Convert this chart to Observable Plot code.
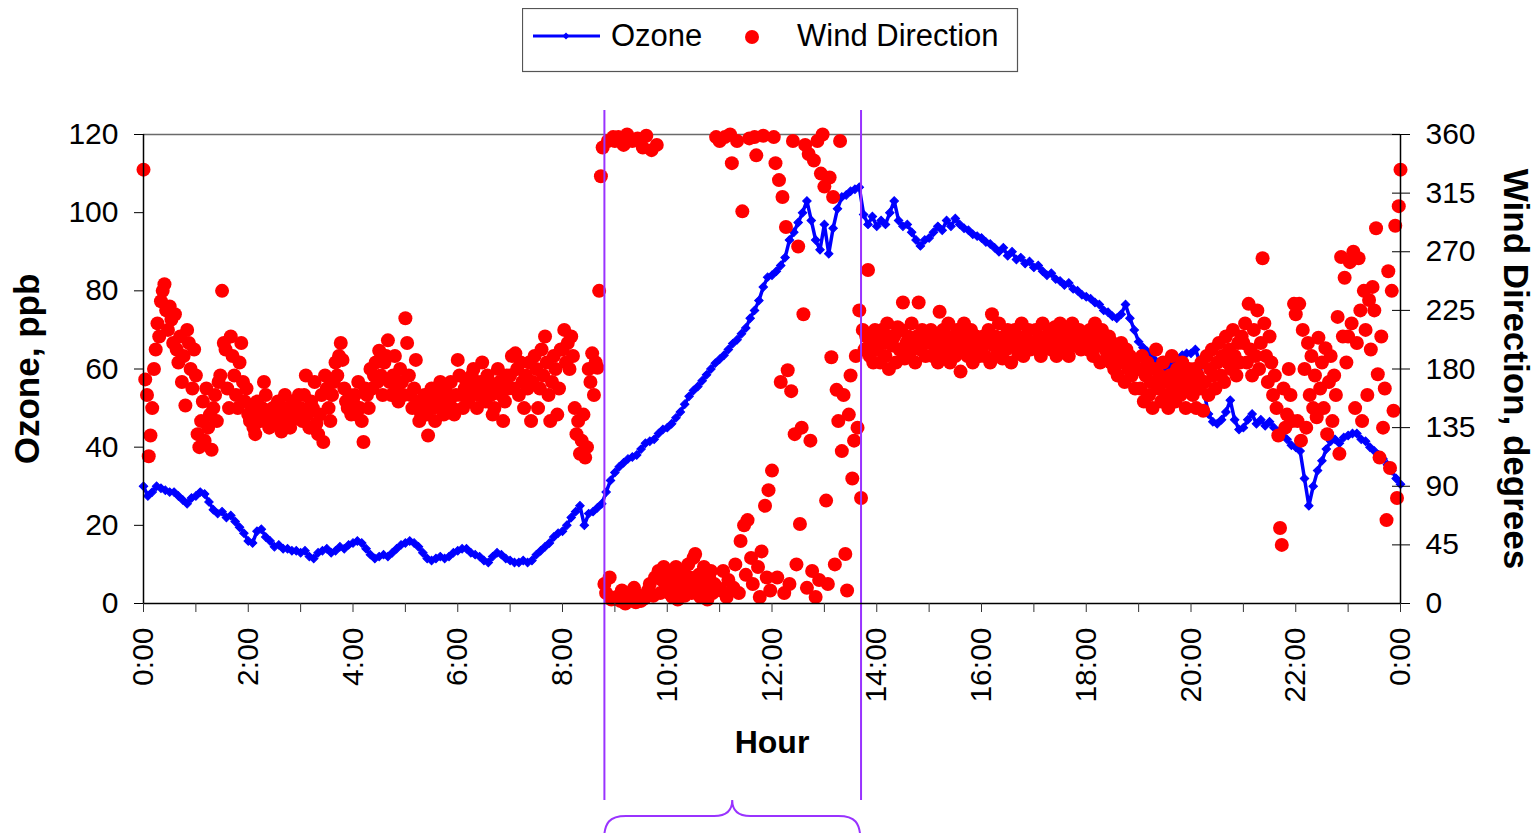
<!DOCTYPE html>
<html>
<head>
<meta charset="utf-8">
<script src="https://cdn.jsdelivr.net/npm/d3@7"></script>
<script src="https://cdn.jsdelivr.net/npm/@observablehq/plot@0.6"></script>
<style>
  html, body { margin: 0; padding: 0; background: #fff; }
  #wrap { position: relative; width: 1538px; height: 833px; overflow: hidden; font-family: "Liberation Sans", Arial, sans-serif; }
  #legend { position: absolute; left: 522px; top: 8px; }
</style>
</head>
<body>
<div id="wrap">
  <div id="chart"></div>
  <svg id="legend" width="497" height="65">
    <rect x="0.5" y="0.5" width="495" height="63" fill="#fff" stroke="#555" stroke-width="1.2"></rect>
    <line x1="11" y1="28" x2="78" y2="28" stroke="#0000ff" stroke-width="3"></line>
    <rect x="41.5" y="25.5" width="5" height="5" fill="#0000ff" transform="rotate(45 44 28)"></rect>
    <text x="89" y="38" font-family="Liberation Sans, Arial, sans-serif" font-size="31" fill="#000">Ozone</text>
    <circle cx="230" cy="29" r="7" fill="#ff0000"></circle>
    <text x="275" y="38" font-family="Liberation Sans, Arial, sans-serif" font-size="31" fill="#000">Wind Direction</text>
  </svg>
</div>
<script>
// ---- Ozone (ppb), every 5 minutes, one row per hour ----
const ozoneH00 = [30, 27.5, 28.5, 30, 29.5, 29, 28.5, 28.5, 27.5, 26.5, 25.5, 27];
const ozoneH01 = [27.5, 28.5, 28, 26, 24, 23, 23.5, 22, 22.5, 21, 19.5, 18];
const ozoneH02 = [16, 15.5, 18.5, 19, 17, 16, 14.5, 15, 14, 14, 13.5, 13.5];
const ozoneH03 = [13, 13.5, 12, 11.5, 13, 13.5, 14, 13, 13.5, 14.5, 14, 15];
const ozoneH04 = [15.5, 16, 15.5, 14, 12.5, 11.5, 12, 12.5, 12, 13, 14, 15];
const ozoneH05 = [15.5, 16, 15.5, 14.5, 13, 11.5, 11, 11.5, 12, 11.5, 12, 13];
const ozoneH06 = [13.5, 14, 14, 13, 12.5, 12, 11, 10.5, 12, 13, 12.5, 11.5];
const ozoneH07 = [11, 10.5, 10.5, 11, 10.5, 11, 12.5, 13.5, 14.5, 15.5, 17, 18];
const ozoneH08 = [18.5, 20, 22, 23.5, 25, 20, 23, 23.5, 24.5, 25.5, 28.5, 31.5];
const ozoneH09 = [33.5, 35, 36, 37, 37.5, 38, 39.5, 41, 41.5, 42, 43.5, 44.5];
const ozoneH10 = [45, 46, 47.5, 49, 51, 53, 54.5, 55.5, 57, 58.5, 60, 61.5];
const ozoneH11 = [62.5, 63.5, 65, 66.5, 67.5, 69, 70.5, 73, 75, 77.5, 81, 83.5];
const ozoneH12 = [84, 85, 86.5, 88.5, 93, 95, 97.5, 100, 103, 98, 93, 90.5];
const ozoneH13 = [97, 89.5, 96, 101, 104, 104.5, 105.5, 106, 106.5, 99.5, 97, 99];
const ozoneH14 = [96.5, 98, 97, 100, 103, 98, 96.5, 97, 95, 93, 91.5, 93];
const ozoneH15 = [93.5, 95, 96.5, 95.5, 98, 96.5, 98.5, 97, 96, 95.5, 94.5, 94];
const ozoneH16 = [93.5, 92.5, 92, 91, 90, 91, 89, 90, 88, 88.5, 87, 87.5];
const ozoneH17 = [86, 86.5, 85, 84, 84.5, 83, 82.5, 81.5, 82, 80.5, 80, 79];
const ozoneH18 = [78.5, 78, 77, 76.5, 75, 74.5, 73.5, 73, 74, 76.5, 73, 70];
const ozoneH19 = [67, 65.5, 64.5, 63, 62, 61, 60.5, 61, 62, 62.5, 63.5, 64];
const ozoneH20 = [64, 65, 62, 54, 48.5, 46.5, 46, 47, 49, 52, 47, 44.5];
const ozoneH21 = [45, 47, 48.5, 46, 47, 45.5, 46.5, 45, 44, 43, 42, 40.5];
const ozoneH22 = [40, 39, 32, 25, 30, 34, 36.5, 39.5, 41.5, 42, 41, 42.5];
const ozoneH23 = [43, 43.5, 43.5, 42, 41.5, 40, 39, 38, 37, 35.5, 34, 32];
const ozoneEnd = [30.5];

// ---- Wind direction (degrees), every 2 minutes, one row per hour ----
const windH00 = [333, 172, 160, 113, 129, 150, 180, 195, 215, 205, 232, 240, 245, 225, 210, 228, 218, 200, 222, 195, 185, 205, 170, 190, 152, 210, 200, 180, 165, 195];
const windH01 = [175, 130, 120, 140, 155, 125, 165, 135, 145, 118, 150, 160, 140, 170, 175, 240, 200, 195, 165, 150, 205, 190, 175, 160, 150, 185, 200, 170, 155, 165];
const windH02 = [145, 140, 150, 135, 130, 155, 145, 140, 150, 170, 160, 145, 135, 140, 150, 145, 138, 155, 148, 132, 145, 160, 150, 140, 135, 148, 155, 142, 150, 160];
const windH03 = [150, 140, 160, 175, 145, 135, 155, 150, 170, 138, 130, 145, 160, 124, 175, 165, 150, 140, 160, 170, 185, 175, 190, 200, 187, 165, 155, 150, 160, 145];
const windH04 = [155, 160, 145, 170, 150, 140, 124, 165, 160, 150, 180, 165, 175, 185, 170, 194, 175, 160, 185, 190, 202, 170, 160, 175, 190, 165, 155, 180, 170, 160];
const windH05 = [219, 200, 175, 160, 150, 165, 187, 155, 140, 145, 150, 160, 145, 129, 155, 165, 150, 140, 155, 160, 170, 150, 145, 165, 160, 155, 170, 150, 145, 160];
const windH06 = [187, 175, 160, 150, 165, 170, 155, 160, 175, 180, 165, 150, 160, 170, 185, 165, 155, 175, 170, 160, 145, 150, 165, 180, 170, 160, 140, 155, 175, 165];
const windH07 = [175, 190, 165, 192, 180, 160, 185, 170, 150, 175, 165, 185, 140, 170, 190, 180, 150, 165, 195, 175, 205, 185, 160, 140, 170, 190, 180, 145, 165, 195];
const windH08 = [195, 210, 185, 200, 180, 205, 190, 150, 130, 140, 115, 125, 145, 112, 120, 180, 170, 192, 160, 185, 181, 240, 328, 350, 15, 8, 355, 20, 3, 358];
const windH09 = [355, 5, 358, 2, 10, 352, 0, 360, 8, 3, 355, 12, 1, 357, 6, 2, 350, 4, 359, 10, 15, 348, 6, 20, 352, 25, 8, 18, 28, 15];
const windH10 = [15, 8, 22, 5, 12, 28, 3, 18, 10, 25, 6, 14, 30, 20, 8, 35, 38, 12, 22, 5, 16, 28, 10, 3, 20, 25, 8, 15, 358, 12];
const windH11 = [355, 10, 25, 358, 5, 18, 360, 338, 12, 30, 355, 8, 48, 301, 60, 22, 64, 357, 35, 15, 358, 344, 28, 5, 40, 359, 75, 20, 87, 10];
const windH12 = [102, 358, 338, 20, 325, 170, 312, 8, 289, 179, 15, 163, 355, 130, 30, 274, 61, 135, 222, 352, 12, 345, 125, 25, 340, 5, 355, 18, 330, 360];
const windH13 = [320, 79, 15, 327, 189, 312, 30, 164, 140, 355, 117, 160, 38, 10, 145, 175, 96, 125, 190, 135, 225, 81, 210, 195, 205, 256, 190, 200, 185, 210];
const windH14 = [195, 205, 185, 210, 200, 190, 215, 180, 205, 198, 205, 185, 212, 195, 210, 231, 188, 200, 205, 192, 215, 198, 185, 205, 231, 195, 210, 200, 190, 205];
const windH15 = [200, 210, 190, 205, 195, 185, 224, 200, 210, 192, 205, 215, 185, 198, 205, 190, 210, 200, 178, 195, 215, 205, 190, 200, 210, 185, 195, 205, 200, 190];
const windH16 = [195, 205, 190, 200, 210, 185, 222, 198, 205, 192, 215, 200, 188, 205, 195, 210, 200, 185, 198, 210, 205, 192, 200, 215, 190, 205, 198, 210, 195, 200];
const windH17 = [200, 210, 195, 205, 190, 215, 200, 205, 198, 210, 195, 205, 212, 190, 200, 215, 205, 195, 210, 200, 190, 205, 215, 198, 205, 200, 210, 195, 205, 200];
const windH18 = [205, 195, 210, 200, 190, 215, 205, 198, 185, 210, 200, 195, 190, 205, 185, 200, 180, 195, 175, 190, 200, 185, 170, 195, 180, 190, 175, 185, 165, 180];
const windH19 = [180, 165, 190, 155, 175, 185, 160, 170, 150, 180, 195, 165, 175, 155, 185, 170, 160, 150, 175, 190, 165, 155, 180, 170, 160, 185, 175, 150, 165, 180];
const windH20 = [170, 160, 180, 150, 175, 165, 185, 148, 170, 190, 160, 180, 195, 175, 165, 185, 200, 175, 190, 170, 205, 185, 195, 180, 210, 190, 175, 200, 185, 205];
const windH21 = [200, 215, 185, 230, 195, 175, 210, 190, 225, 180, 200, 265, 215, 190, 170, 205, 185, 160, 175, 150, 129, 58, 45, 165, 135, 145, 180, 160, 140, 230];
const windH22 = [222, 140, 230, 125, 210, 180, 135, 200, 160, 190, 150, 175, 143, 204, 165, 185, 150, 196, 130, 170, 190, 140, 175, 160, 220, 115, 266, 205, 250, 185];
const windH23 = [205, 262, 215, 270, 150, 200, 265, 225, 140, 240, 210, 160, 233, 195, 243, 225, 288, 176, 112, 205, 135, 165, 64, 255, 104, 240, 148, 290, 81, 305];
const windEnd = [333];

// ---- Axes / annotations ----
const ozoneTicks = [0, 20, 40, 60, 80, 100, 120];
const windTicks = [0, 45, 90, 135, 180, 225, 270, 315, 360];
const hourTicks = [0,1,2,3,4,5,6,7,8,9,10,11,12,13,14,15,16,17,18,19,20,21,22,23,24];
const labelHours = [0, 2, 4, 6, 8, 10, 12, 14, 16, 18, 20, 22, 24];
const xTickLabels = ["0:00","2:00","4:00","6:00","8:00","10:00","12:00","14:00","16:00","18:00","20:00","22:00","0:00"];
const markHours = [8.8, 13.7]; // 8:48 and 13:42

const ozoneVals = [ozoneH00, ozoneH01, ozoneH02, ozoneH03, ozoneH04, ozoneH05, ozoneH06, ozoneH07, ozoneH08, ozoneH09, ozoneH10, ozoneH11, ozoneH12, ozoneH13, ozoneH14, ozoneH15, ozoneH16, ozoneH17, ozoneH18, ozoneH19, ozoneH20, ozoneH21, ozoneH22, ozoneH23, ozoneEnd].flat();
const windVals = [windH00, windH01, windH02, windH03, windH04, windH05, windH06, windH07, windH08, windH09, windH10, windH11, windH12, windH13, windH14, windH15, windH16, windH17, windH18, windH19, windH20, windH21, windH22, windH23, windEnd].flat();

const ozone = ozoneVals.map((v, i) => ({hour: i * 5 / 60, ppb: v}));
const wind = windVals.map((v, i) => ({hour: i * 2 / 60, deg: v}));
const DEG_PER_PPB = 3; // right axis 0–360 maps onto left axis 0–120

const font = '"Liberation Sans", Arial, Helvetica, sans-serif';

const chart = Plot.plot({
  width: 1538,
  height: 833,
  marginLeft: 143,
  marginRight: 138,
  marginTop: 134,
  marginBottom: 230,
  style: {fontFamily: font, fontSize: "30px", color: "#000", background: "#fff", overflow: "visible"},
  x: {domain: [0, 24]},
  y: {domain: [0, 120]},
  marks: [
    Plot.ruleY([120], {stroke: "#6a6a6a", strokeWidth: 1.5}),
    Plot.line(ozone, {x: "hour", y: "ppb", stroke: "#0000ff", strokeWidth: 3.5}),
    Plot.dot(ozone, {x: "hour", y: "ppb", symbol: "square", r: 3.4, rotate: 45, fill: "#0000ff", stroke: "#0000ff", strokeWidth: 1}),
    Plot.dot(wind, {x: "hour", y: d => d.deg / DEG_PER_PPB, r: 7, fill: "#ff0000"}),
    Plot.ruleX(markHours, {x: d => d, y1: () => 126.15, y2: () => -50.4, stroke: "#9933ff", strokeWidth: 2}),
    Plot.ruleX([0], {stroke: "#000", strokeWidth: 1.5}),
    Plot.ruleX([24], {stroke: "#000", strokeWidth: 1.5}),
    Plot.ruleY([0], {stroke: "#000", strokeWidth: 1.5}),
    Plot.axisY(ozoneTicks, {anchor: "left", tickSize: 9, tickPadding: 16, label: null, stroke: "#000"}),
    Plot.axisY(windTicks.map(d => d / DEG_PER_PPB), {anchor: "right", tickSize: 18, dx: -9, tickPadding: 16, label: null, stroke: "#000",
      tickFormat: d => windTicks[Math.round(d * DEG_PER_PPB / 45)]}),
    Plot.axisX(hourTicks, {tickSize: 9, tickFormat: () => "", label: null, stroke: "#333"}),
    Plot.text(labelHours, {x: d => d, text: (d, i) => xTickLabels[i], frameAnchor: "bottom", dy: 24, rotate: -90, textAnchor: "end", lineAnchor: "middle", fontSize: 30}),
    Plot.text(["Ozone, ppb"], {frameAnchor: "left", dx: -116, rotate: -90, textAnchor: "middle", fontWeight: "bold", fontSize: 35, lineAnchor: "middle"}),
    Plot.text(["Wind Direction, degrees"], {frameAnchor: "right", dx: 115, rotate: 90, textAnchor: "middle", fontWeight: "bold", fontSize: 35, lineAnchor: "middle"}),
    Plot.text(["Hour"], {frameAnchor: "bottom", dy: 139, fontWeight: "bold", fontSize: 32, lineAnchor: "middle"})
  ]
});
document.getElementById("chart").appendChild(chart);

// Curly brace under the marked period, positioned with the chart's x scale
const xs = chart.scale("x");
const xa = xs.apply(markHours[0]);
const xb = xs.apply(markHours[1]);
const xm = (xa + xb) / 2;
const yTop = 800, yMid = 816, yBot = 842;
const bracePath = `M${xa},${yBot} C${xa},${yMid + 6} ${xa + 6},${yMid} ${xa + 22},${yMid} L${xm - 18},${yMid} C${xm - 6},${yMid} ${xm},${yMid - 6} ${xm},${yTop} C${xm},${yMid - 6} ${xm + 6},${yMid} ${xm + 18},${yMid} L${xb - 22},${yMid} C${xb - 6},${yMid} ${xb},${yMid + 6} ${xb},${yBot}`;
d3.select(chart).append("path").attr("d", bracePath).attr("fill", "none").attr("stroke", "#9933ff").attr("stroke-width", 2);
</script>
</body>
</html>
